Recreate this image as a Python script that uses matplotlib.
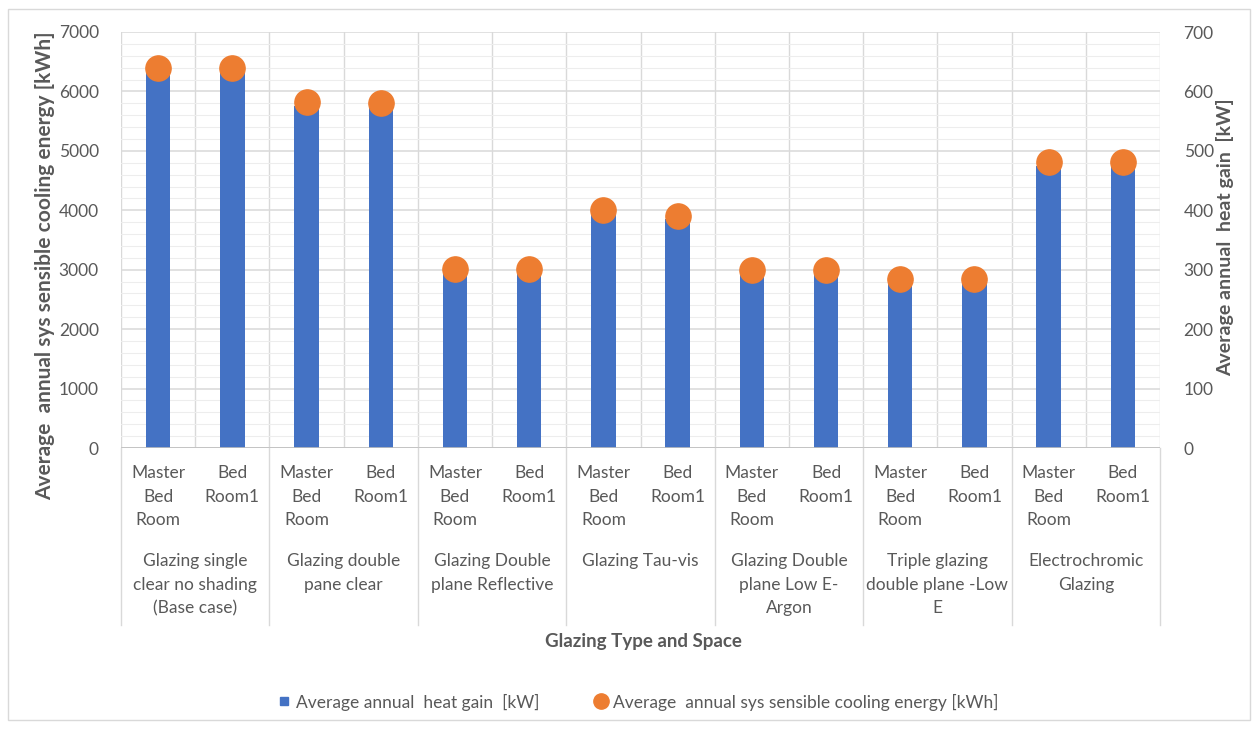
import numpy as np
import matplotlib
matplotlib.use("Agg")
import matplotlib.pyplot as plt
from matplotlib.lines import Line2D
from matplotlib.patches import Rectangle

rooms = ["Master\nBed\nRoom", "Bed\nRoom1"] * 7
groups = [
    "Glazing single\nclear no shading\n(Base case)",
    "Glazing double\npane clear",
    "Glazing Double\nplane Reflective",
    "Glazing Tau-vis",
    "Glazing Double\nplane Low E-\nArgon",
    "Triple glazing\ndouble plane -Low\nE",
    "Electrochromic\nGlazing",
]
heat_gain_kw = [632, 632, 575, 573, 297, 297, 395, 385, 296, 295, 280, 280, 475, 475]
cooling_kwh = [6400, 6400, 5820, 5800, 3020, 3020, 4000, 3900, 3000, 2990, 2850, 2840, 4820, 4820]

BLUE = "#4472C4"
ORANGE = "#ED7D31"
TXT = "#595959"
GRID = "#D9D9D9"
W, H = 1259, 729

plt.rcParams["font.family"] = ["Lato", "DejaVu Sans"]
plt.rcParams["font.size"] = 12.5

fig = plt.figure(figsize=(W / 100, H / 100), dpi=100)
ax = fig.add_axes([121 / W, 1 - 448 / H, (1160 - 121) / W, 416 / H])
ax2 = ax.twinx()

x = np.arange(len(rooms))

# bars (heat gain) live on the right axis, drawn underneath
ax2.bar(x, heat_gain_kw, width=0.33, color=BLUE, zorder=3)
ax2.set_ylim(0, 700)
ax2.set_yticks(np.arange(0, 701, 100))
ax2.set_yticks(np.arange(0, 701, 20), minor=True)
ax2.yaxis.grid(True, which="major", color=GRID, lw=1.1, zorder=0)
ax2.yaxis.grid(True, which="minor", color="#EDEDED", lw=0.8, zorder=0)
for b in np.arange(-0.5, len(rooms), 1.0):
    ax2.axvline(b, color=GRID, lw=1.0, zorder=1)

# dots (cooling energy) on the left axis, kept on top
ax.set_zorder(ax2.get_zorder() + 1)
ax.patch.set_visible(False)
ax.scatter(x, cooling_kwh, s=330, color=ORANGE, zorder=4, clip_on=False)
ax.set_ylim(0, 7000)
ax.set_yticks(np.arange(0, 7001, 1000))
ax.set_xlim(-0.5, len(rooms) - 0.5)
ax.set_xticks([])

for a in (ax, ax2):
    for s in a.spines.values():
        s.set_visible(False)
    a.tick_params(axis="y", which="both", length=0, colors=TXT, labelsize=12.5)
ax.tick_params(axis="y", pad=16)
ax2.tick_params(axis="y", pad=17)
ax.axhline(0, color="#BFBFBF", lw=1.2, zorder=2)

fig.text(45 / W, 1 - 266 / H, "Average  annual sys sensible cooling energy [kWh]",
         rotation=90, ha="center", va="center", color=TXT,
         fontsize=15, fontweight="bold")
fig.text(1225 / W, 1 - 237 / H, "Average annual  heat gain  [kW]",
         rotation=90, ha="center", va="center", color=TXT,
         fontsize=14, fontweight="bold")

# two-level category labels below the plot
trans = ax.get_xaxis_transform()
h = 416.0
for i, r in enumerate(rooms):
    ax.text(i, -17 / h, r, transform=trans, ha="center", va="top",
            color=TXT, fontsize=12.5, linespacing=1.58)
for g, name in enumerate(groups):
    ax.text(2 * g + 0.5, -105 / h, name, transform=trans, ha="center", va="top",
            color=TXT, fontsize=12.5, linespacing=1.58)
for b in np.arange(-0.5, len(rooms), 2.0):
    ax.add_line(Line2D([b, b], [0, -177 / h], transform=trans, color=GRID,
                       lw=1.0, clip_on=False))

fig.text(643 / W, 1 - 641 / H, "Glazing Type and Space", ha="center", va="center",
         color=TXT, fontsize=13.5, fontweight="bold")

handles = [
    Line2D([], [], marker="s", ls="", color=BLUE, markersize=6),
    Line2D([], [], marker="o", ls="", color=ORANGE, markersize=11),
]
fig.legend(handles,
           ["Average annual  heat gain  [kW]",
            "Average  annual sys sensible cooling energy [kWh]"],
           loc="center", bbox_to_anchor=(637 / W, 1 - 702 / H), ncol=2,
           frameon=False, fontsize=12.5, labelcolor=TXT, handletextpad=0.2,
           handlelength=1.0, columnspacing=3.0)

fig.add_artist(Rectangle((8 / W, 9 / H), 1242 / W, 711 / H,
                         transform=fig.transFigure, fill=False,
                         edgecolor="#D9D9D9", lw=1.0))

fig.savefig("out.png", dpi=100)
